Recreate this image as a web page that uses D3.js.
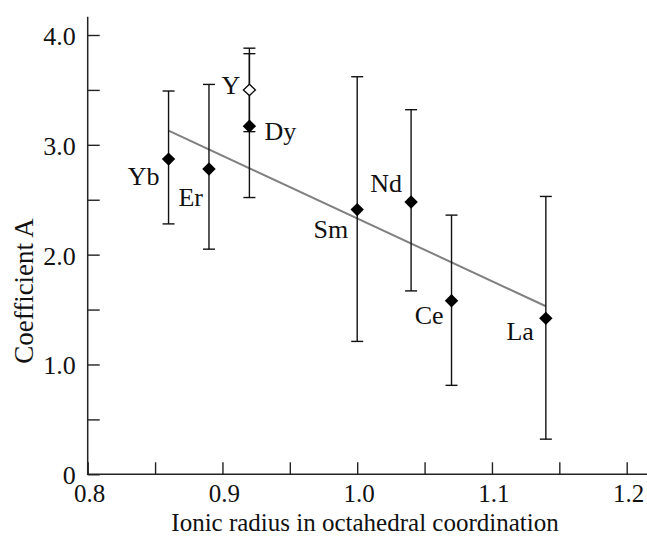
<!DOCTYPE html>
<html>
<head>
<meta charset="utf-8">
<script src="https://cdn.jsdelivr.net/npm/d3@7"></script>
<style>
  body { margin: 0; background: #fff; }
  svg text { font-family: "Liberation Serif", "Times New Roman", serif; fill: #111; }
</style>
</head>
<body>
<div id="chart"></div>
<script>
// element data: ionic radius, coefficient A and its error range
var elements = [ "Yb", "Er", "Dy", "Y", "Sm", "Nd", "Ce", "La" ];
var radius = [ 0.86, 0.89, 0.92, 0.92, 1.00, 1.04, 1.07, 1.14 ];
var coefA = [ 2.87, 2.78, 3.17, 3.50, 2.41, 2.48, 1.58, 1.42 ];
var errLow = [ 2.28, 2.05, 2.52, 3.12, 1.21, 1.67, 0.81, 0.32 ];
var errHigh = [ 3.49, 3.55, 3.83, 3.88, 3.62, 3.32, 2.36, 2.53 ];
var hollow = [ false, false, false, true, false, false, false, false ];

// linear fit
var fitX = [ 0.86, 1.14 ];
var fitY = [ 3.13, 1.53 ];

var xTicks = [ 0.8, 0.85, 0.9, 0.95, 1.0, 1.05, 1.1, 1.15, 1.2 ];
var yTicks = [ 0, 0.5, 1.0, 1.5, 2.0, 2.5, 3.0, 3.5, 4.0 ];

// label placement relative to the marker (layout only)
var labelPos = {
  Yb: [ -9, 26, "end" ],
  Er: [ -6, 37, "end" ],
  Y: [ -9, 4, "end" ],
  Dy: [ 15, 14, "start" ],
  Sm: [ -9, 28, "end" ],
  Nd: [ -9, -10, "end" ],
  Ce: [ -8, 23, "end" ],
  La: [ -12, 22, "end" ]
};

var width = 647, height = 537;
var fontSize = 26;

var svg = d3.select( "#chart" ).append( "svg" )
  .attr( "width", width ).attr( "height", height );

var x = d3.scaleLinear().domain( [ 0.8, 1.2 ] ).range( [ 87.7, 626.7 ] );
var y = d3.scaleLinear().domain( [ 0, 4 ] ).range( [ 474.3, 35 ] );

var axisColor = "#222";

// axes
var xAxis = d3.axisBottom( x ).tickValues( xTicks ).tickSizeInner( -12 ).tickSizeOuter( 0 )
  .tickFormat( function( d ) {
    return Math.abs( d * 10 - Math.round( d * 10 ) ) < 1e-6 ? d3.format( ".1f" )( d ) : "";
  } );
var gx = svg.append( "g" ).attr( "transform", "translate(0," + y( 0 ) + ")" ).call( xAxis );
gx.select( ".domain" ).remove();
gx.selectAll( ".tick line" ).attr( "stroke", axisColor ).attr( "stroke-width", 1.4 );
gx.selectAll( ".tick text" )
  .attr( "y", 28 ).attr( "dy", 0 ).attr( "x", 1.5 )
  .attr( "font-size", 25 ).attr( "fill", "#111" );

var yAxis = d3.axisLeft( y ).tickValues( yTicks ).tickSizeInner( -12 ).tickSizeOuter( 0 )
  .tickFormat( function( d ) {
    if( d === 0 ) return "0";
    return d % 1 === 0 ? d3.format( ".1f" )( d ) : "";
  } );
var gy = svg.append( "g" ).attr( "transform", "translate(" + x( 0.8 ) + ",0)" ).call( yAxis );
gy.select( ".domain" ).remove();
gy.selectAll( ".tick line" ).attr( "stroke", axisColor ).attr( "stroke-width", 1.4 );
gy.selectAll( ".tick text" )
  .attr( "x", -12 ).attr( "dy", "0.36em" )
  .attr( "font-size", fontSize ).attr( "fill", "#111" );

// axis lines
svg.append( "line" )
  .attr( "x1", x( 0.8 ) ).attr( "x2", width )
  .attr( "y1", y( 0 ) ).attr( "y2", y( 0 ) )
  .attr( "stroke", axisColor ).attr( "stroke-width", 1.5 );
svg.append( "line" )
  .attr( "x1", x( 0.8 ) ).attr( "x2", x( 0.8 ) )
  .attr( "y1", y( 0 ) + 0.75 ).attr( "y2", 16.7 )
  .attr( "stroke", axisColor ).attr( "stroke-width", 1.5 );

// axis titles
svg.append( "text" )
  .attr( "x", 365 ).attr( "y", 531 )
  .attr( "text-anchor", "middle" ).attr( "font-size", 25 )
  .text( "Ionic radius in octahedral coordination" );
svg.append( "text" )
  .attr( "transform", "translate(33,291) rotate(-90)" )
  .attr( "text-anchor", "middle" ).attr( "font-size", 27 )
  .text( "Coefficient A" );

// fit line
svg.append( "line" )
  .attr( "x1", x( fitX[ 0 ] ) ).attr( "y1", y( fitY[ 0 ] ) )
  .attr( "x2", x( fitX[ 1 ] ) ).attr( "y2", y( fitY[ 1 ] ) )
  .attr( "stroke", "#808080" ).attr( "stroke-width", 2 );

var idx = d3.range( elements.length );
var capW = 6;

// error bars
var eb = svg.append( "g" ).attr( "stroke", "#111" ).attr( "stroke-width", 1.4 );
idx.forEach( function( i ) {
  var cx = x( radius[ i ] );
  eb.append( "line" ).attr( "x1", cx ).attr( "x2", cx )
    .attr( "y1", y( errLow[ i ] ) ).attr( "y2", y( errHigh[ i ] ) );
  [ errLow[ i ], errHigh[ i ] ].forEach( function( v ) {
    eb.append( "line" ).attr( "x1", cx - capW ).attr( "x2", cx + capW )
      .attr( "y1", y( v ) ).attr( "y2", y( v ) );
  } );
} );

// markers (hollow first so filled ones sit on top)
var diamond = "M0,-6.7L6.7,0L0,6.7L-6.7,0Z";
var hollowDiamond = "M0,-5.6L6,0L0,5.6L-6,0Z";
svg.append( "g" ).selectAll( "path" )
  .data( idx.filter( function( i ) { return hollow[ i ]; } ) )
  .join( "path" )
  .attr( "d", hollowDiamond )
  .attr( "transform", function( i ) { return "translate(" + x( radius[ i ] ) + "," + y( coefA[ i ] ) + ")"; } )
  .attr( "fill", "#fff" ).attr( "stroke", "#111" ).attr( "stroke-width", 1.4 );
svg.append( "g" ).selectAll( "path" )
  .data( idx.filter( function( i ) { return !hollow[ i ]; } ) )
  .join( "path" )
  .attr( "d", diamond )
  .attr( "transform", function( i ) { return "translate(" + x( radius[ i ] ) + "," + y( coefA[ i ] ) + ")"; } )
  .attr( "fill", "#000" );

// element labels
svg.append( "g" ).selectAll( "text" )
  .data( idx )
  .join( "text" )
  .attr( "x", function( i ) { return x( radius[ i ] ) + labelPos[ elements[ i ] ][ 0 ]; } )
  .attr( "y", function( i ) { return y( coefA[ i ] ) + labelPos[ elements[ i ] ][ 1 ]; } )
  .attr( "text-anchor", function( i ) { return labelPos[ elements[ i ] ][ 2 ]; } )
  .attr( "font-size", fontSize )
  .text( function( i ) { return elements[ i ]; } );
</script>
</body>
</html>
